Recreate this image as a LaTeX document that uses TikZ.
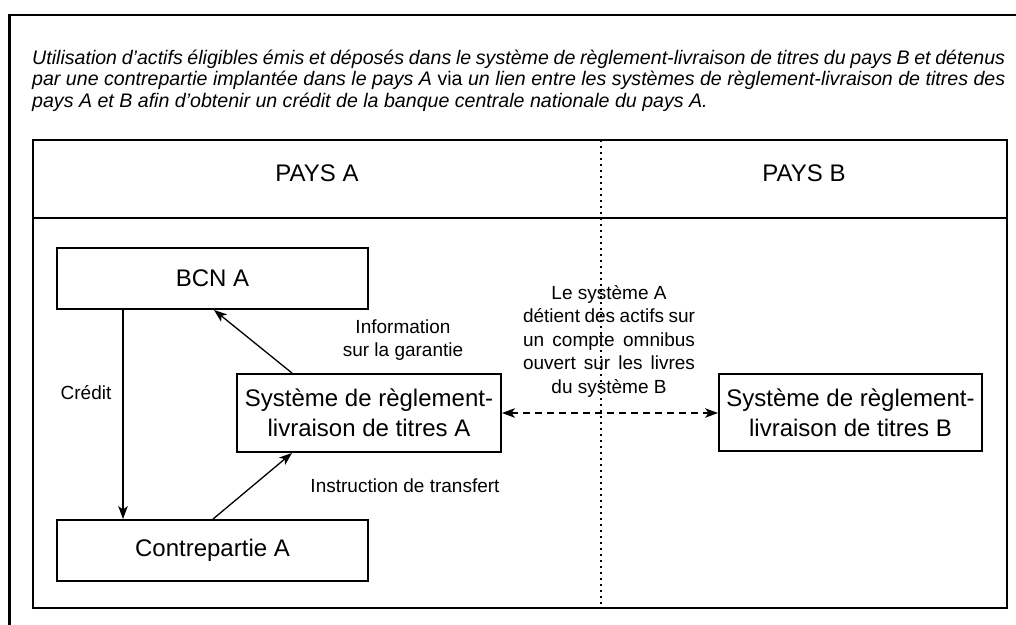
\documentclass[tikz,border=0pt]{standalone}
\usepackage{fontspec}
\setmainfont{Liberation Sans}
\usetikzlibrary{arrows.meta}
\begin{document}
\begin{tikzpicture}[x=1pt,y=-1pt,
  box/.style={draw, line width=1.9pt, inner sep=0pt, align=center, font=\fontsize{24}{30}\selectfont},
  lbl/.style={inner sep=0pt, align=center, font=\fontsize{19}{23.5}\selectfont},
  hdr/.style={inner sep=0pt, font=\fontsize{24}{28}\selectfont},
  arr/.style={line width=1.3pt, -{Stealth[length=13pt,width=9.5pt,inset=3.5pt]}},
  dblarr/.style={line width=1.3pt, dash pattern=on 7pt off 5pt, {Stealth[length=13pt,width=9.5pt,inset=3.5pt]}-{Stealth[length=13pt,width=9.5pt,inset=3.5pt]}},
  frame/.style={line width=2pt},
  dotline/.style={line width=1.7pt, dash pattern=on 1.7pt off 4.3pt}
]
\useasboundingbox (0,0) rectangle (1016,624);
\clip (0,0) rectangle (1016,624);
% outer frame (extends beyond the page)
\draw[line width=2.6pt] (9.5,15) rectangle (1040,660);
% title
\node[anchor=base west, text width=973pt, align=justify, inner sep=0pt,
      font=\fontsize{19.6}{21.6}\selectfont\itshape] (title) at (32,64)
  {Utilisation d’actifs éligibles émis et déposés dans le système de règlement-livraison de titres du pays B et détenus\linebreak
   par une contrepartie implantée dans le pays A {\upshape via} un lien entre les systèmes de règlement-livraison de titres des\linebreak
   pays A et B afin d’obtenir un crédit de la banque centrale nationale du pays A.};
% inner frame
\coordinate (ftl) at (32.5,140);
\coordinate (fbr) at (1006.5,608);
\coordinate (hl) at (32.5,217.5);
\coordinate (hr) at (1006.5,217.5);
\coordinate (dtop) at (601,140);
\coordinate (dbot) at (601,608);
\draw[dotline] (dtop) -- (dbot);
\draw[frame] (ftl) rectangle (fbr);
\draw[frame] (hl) -- (hr);
\node[hdr] (paysa) at (317,173) {PAYS A};
\node[hdr] (paysb) at (804,173) {PAYS B};
% boxes
\node[box, minimum width=311pt, minimum height=61pt] (bcn) at (212.5,278.5) {BCN A};
\node[box, minimum width=311pt, minimum height=61pt] (cp) at (212.5,550.5) {Contrepartie A};
\node[box, minimum width=264pt, minimum height=78pt] (srla) at (369,413) {Système de règlement-\\livraison de titres A};
\node[box, minimum width=263pt, minimum height=77pt] (srlb) at (850.5,412.5) {Système de règlement-\\livraison de titres B};
% arrows
\coordinate (cx) at (123,0);
\coordinate (ia) at (292,0);
\coordinate (ib) at (214,0);
\coordinate (ta) at (213,0);
\draw[arr] (bcn.south -| cx) -- (cp.north -| cx);
\draw[arr] (srla.north -| ia) -- (bcn.south -| ib);
\draw[arr] (cp.north -| ta) -- (srla.south -| ia);
\draw[dblarr] (srla.east) -- (srla.east -| srlb.west);
% labels
\node[lbl] (lcred) at (86,393) {Crédit};
\node[lbl] (linfo) at (403,340) {Information\\sur la garantie};
\node[lbl] (linst) at (405,486) {Instruction de transfert};
\node[lbl] (lmid) at (609,341) {Le système A\\
  \makebox[172pt][s]{détient des actifs sur}\\
  \makebox[172pt][s]{un compte omnibus}\\
  \makebox[172pt][s]{ouvert sur les livres}\\
  du système B};
\end{tikzpicture}
\end{document}
